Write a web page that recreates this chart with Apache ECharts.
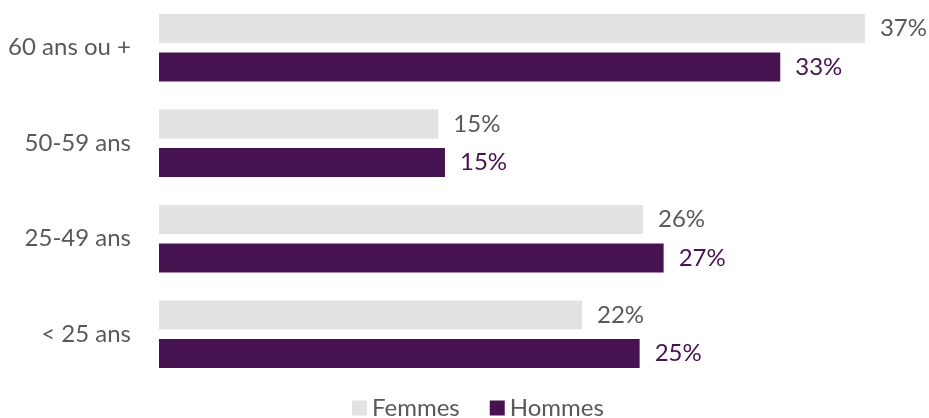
<!DOCTYPE html>
<html>
<head>
<meta charset="utf-8">
<script src="https://cdn.jsdelivr.net/npm/echarts@6/dist/echarts.min.js"></script>
<style>
html,body{margin:0;padding:0;background:#fff;}
#chart{width:929px;height:418px;}
</style>
</head>
<body>
<div id="chart"></div>
<script>
var categories = ['< 25 ans', '25-49 ans', '50-59 ans', '60 ans ou +'];
var femmes = [22.38, 25.61, 14.78, 37.35];
var hommes = [25.43, 26.70, 15.13, 32.87];
var seriesNames = ['Femmes', 'Hommes'];

var FONT = 'Lato';
var chart = echarts.init(document.getElementById('chart'), null, {renderer: 'canvas'});
function fmt(p){ return Math.round(p.value) + '%'; }
chart.setOption({
  animation: false,
  backgroundColor: '#ffffff',
  grid: {left: 159, top: -4, width: 756, height: 386, containLabel: false},
  xAxis: {
    type: 'value', min: 0, max: 40, show: false
  },
  yAxis: {
    type: 'category',
    data: categories,
    axisLine: {show: false},
    axisTick: {show: false},
    axisLabel: {color: '#595959', fontSize: 24, fontFamily: FONT, margin: 28}
  },
  legend: {
    data: seriesNames,
    left: 352, top: 396, padding: 0,
    itemWidth: 15, itemHeight: 15, itemGap: 30,
    icon: 'rect',
    textStyle: {color: '#595959', fontSize: 24, fontFamily: FONT}
  },
  series: [
    {
      name: seriesNames[0], type: 'bar', data: femmes,
      barWidth: 29, barGap: '32%',
      itemStyle: {color: '#E2E2E2'},
      label: {show: true, position: 'right', distance: 15, color: '#595959', fontSize: 24, fontFamily: FONT, formatter: fmt}
    },
    {
      name: seriesNames[1], type: 'bar', data: hommes,
      barWidth: 29, barGap: '32%',
      itemStyle: {color: '#46124F'},
      label: {show: true, position: 'right', distance: 15, color: '#46124F', fontSize: 24, fontFamily: FONT, formatter: fmt}
    }
  ]
});
</script>
</body>
</html>
